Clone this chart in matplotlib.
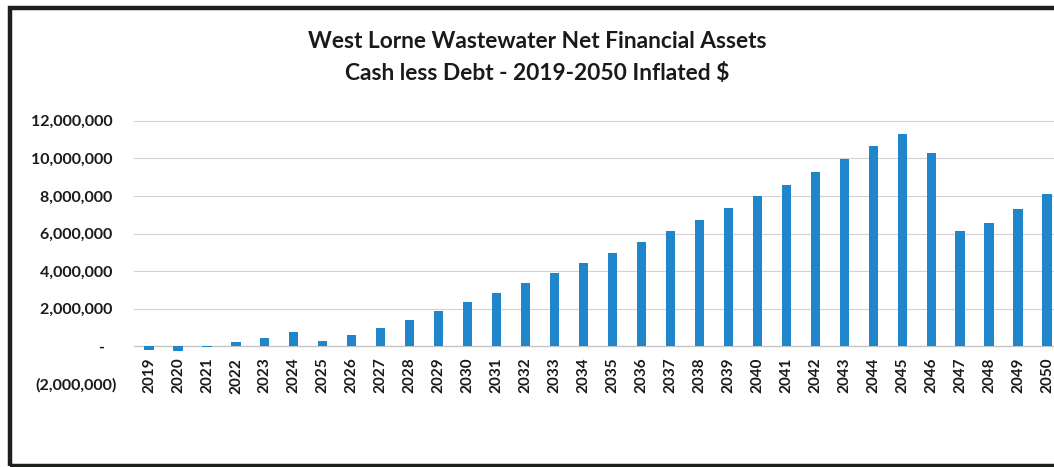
import numpy as np
import matplotlib.pyplot as plt
from matplotlib.ticker import FuncFormatter, MultipleLocator
from matplotlib.patches import Rectangle

plt.rcParams['font.family'] = ['Lato', 'DejaVu Sans']

years = list(range(2019, 2051))
net_assets = [
    -210000, -270000, -50000, 210000, 440000, 740000, 280000, 620000,
    990000, 1400000, 1860000, 2340000, 2850000, 3370000, 3880000, 4410000,
    4980000, 5540000, 6130000, 6730000, 7350000, 7970000, 8600000, 9280000,
    9950000, 10640000, 11310000, 10300000, 6130000, 6570000, 7310000, 8110000,
]

W, H = 1054, 467
fig = plt.figure(figsize=(W / 100, H / 100), dpi=100)

# frame round the chart (right edge runs off the page)
fig.patches.append(Rectangle((9.5 / W, 1.0 / H), 1.2, (459 - 1.0) / H,
                             transform=fig.transFigure, fill=False,
                             edgecolor='#1c1f1c', linewidth=3.2))

left, right = 134.5, 1061.5
top, bottom = 120.7, 384.0
ax = fig.add_axes([left / W, (H - bottom) / H, (right - left) / W, (bottom - top) / H])

x = np.arange(len(years))
ax.bar(x, net_assets, width=0.32, color='#1f86cb', zorder=3)

ax.set_xlim(-0.5, len(years) - 0.5)
ax.set_ylim(-2000000, 12000000)
ax.yaxis.set_major_locator(MultipleLocator(2000000))


def acct(v, pos):
    if abs(v) < 1:
        return '-   '
    if v < 0:
        return '({:,.0f})'.format(-v)
    return '{:,.0f} '.format(v)


ax.yaxis.set_major_formatter(FuncFormatter(acct))
ax.grid(axis='y', color='#d2d2d2', linewidth=0.8, zorder=0)
ax.axhline(0, color='#c4c4c4', linewidth=0.9, zorder=2)

for s in ax.spines.values():
    s.set_visible(False)
ax.tick_params(axis='both', length=0)
ax.tick_params(axis='y', pad=13, labelsize=11.5, labelcolor='#1a1a1a')
for lbl in ax.get_yticklabels():
    lbl.set_fontweight('bold')

ax.set_xticks(x)
ax.set_xticklabels([])
# year labels sit right under the zero line
for xi, yr in zip(x, years):
    ax.text(xi, -600000, str(yr), rotation=90, ha='center', va='top',
            fontsize=11, fontweight='bold', color='#1a1a1a')

fig.text(537 / W, 1 - 41 / H, 'West Lorne Wastewater Net Financial Assets',
         ha='center', va='center', fontsize=16.4, fontweight='bold', color='#1a1a1a')
fig.text(537 / W, 1 - 73 / H, 'Cash less Debt - 2019-2050 Inflated $',
         ha='center', va='center', fontsize=16.4, fontweight='bold', color='#1a1a1a')

fig.savefig('out.png', dpi=100)
